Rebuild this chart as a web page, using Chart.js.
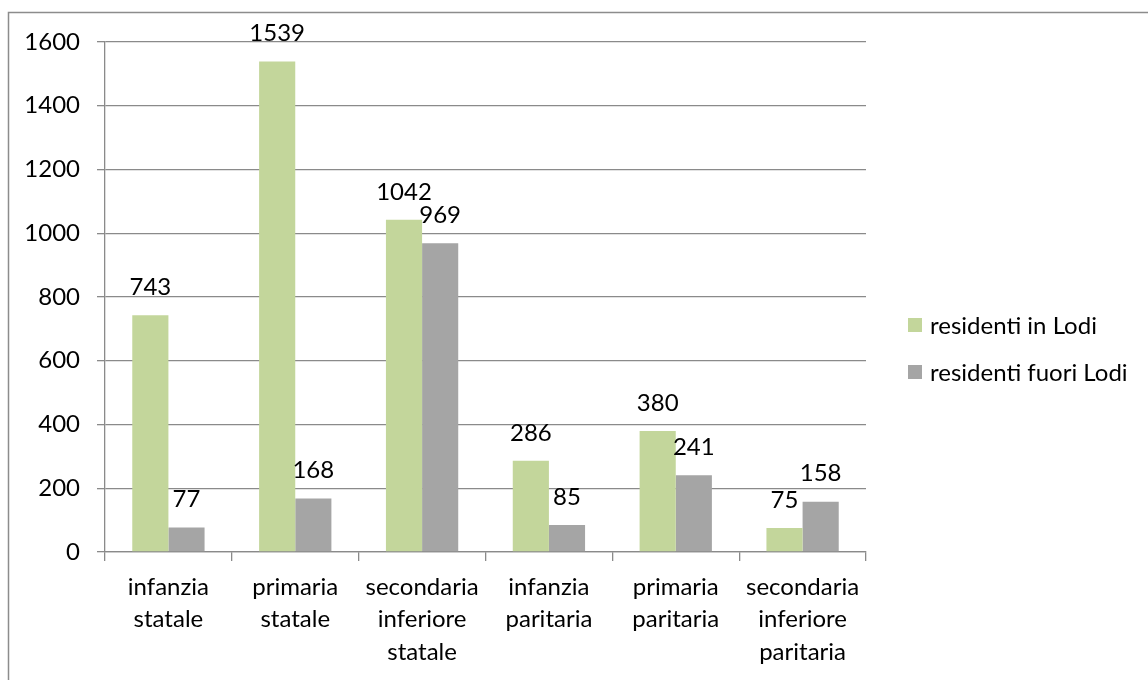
<!DOCTYPE html>
<html>
<head>
<meta charset="utf-8">
<script src="https://cdn.jsdelivr.net/npm/chart.js@4"></script>
<style>
  html, body { margin: 0; padding: 0; background: #fff; }
  #wrap { width: 1148px; height: 680px; position: relative; }
</style>
</head>
<body>
<div id="wrap"><canvas id="c" width="1148" height="680"></canvas></div>
<script>
// School categories (multi-line labels)
const categories = [
  ['infanzia', 'statale'],
  ['primaria', 'statale'],
  ['secondaria', 'inferiore', 'statale'],
  ['infanzia', 'paritaria'],
  ['primaria', 'paritaria'],
  ['secondaria', 'inferiore', 'paritaria']
];
const seriesNames = ['residenti in Lodi', 'residenti fuori Lodi'];
const residentiLodi = [743, 1539, 1042, 286, 380, 75];
const residentiFuori = [77, 168, 969, 85, 241, 158];
const yTicks = { min: 0, max: 1600, step: 200 };

const FONT = 'Lato';
const FONT_SIZE = 24;
const GRID = '#8a8a8a';

// Value labels above each bar, the legend and the frame around the chart
const decorations = {
  id: 'decorations',
  afterDatasetsDraw(chart) {
    const ctx = chart.ctx;
    ctx.save();
    ctx.font = FONT_SIZE + 'px ' + FONT;
    ctx.fillStyle = '#000';
    ctx.textAlign = 'center';
    ctx.textBaseline = 'middle';
    chart.data.datasets.forEach((ds, di) => {
      const meta = chart.getDatasetMeta(di);
      meta.data.forEach((bar, i) => {
        ctx.fillText(String(ds.data[i]), bar.x, bar.y - 28);
      });
    });
    ctx.restore();
  },
  afterDraw(chart) {
    const ctx = chart.ctx;
    ctx.save();
    const ys = [325, 372];
    ctx.font = FONT_SIZE + 'px ' + FONT;
    ctx.textAlign = 'left';
    ctx.textBaseline = 'middle';
    chart.data.datasets.forEach((ds, di) => {
      ctx.fillStyle = ds.backgroundColor;
      ctx.fillRect(908, ys[di] - 7, 14, 14);
      ctx.fillStyle = '#000';
      ctx.fillText(ds.label, 930, ys[di] + 1);
    });
    ctx.strokeStyle = '#8c8c8c';
    ctx.lineWidth = 1.5;
    ctx.strokeRect(8.5, 12.5, 1200, 700);
    ctx.restore();
  }
};

new Chart(document.getElementById('c'), {
  type: 'bar',
  data: {
    labels: categories,
    datasets: [
      { label: seriesNames[0], data: residentiLodi, backgroundColor: '#c3d69b' },
      { label: seriesNames[1], data: residentiFuori, backgroundColor: '#a5a5a5' }
    ]
  },
  options: {
    responsive: false,
    animation: false,
    devicePixelRatio: 1,
    layout: { padding: { top: 42, left: 0, right: 282, bottom: 0 } },
    datasets: { bar: { categoryPercentage: 0.57, barPercentage: 1.0 } },
    plugins: {
      legend: { display: false },
      tooltip: { enabled: false }
    },
    scales: {
      x: {
        afterFit(scale) { scale.height = 128; },
        grid: {
          display: true,
          offset: true,
          drawOnChartArea: false,
          color: GRID,
          tickLength: 9,
          lineWidth: 1.3
        },
        border: { display: true, color: GRID, width: 1.3 },
        ticks: {
          color: '#000',
          font: { family: FONT, size: FONT_SIZE, lineHeight: 1.35 },
          padding: 10,
          maxRotation: 0,
          autoSkip: false
        }
      },
      y: {
        min: yTicks.min,
        max: yTicks.max,
        afterFit(scale) { scale.width = 105; },
        grid: {
          color: GRID,
          lineWidth: 1.3,
          tickLength: 8,
          drawTicks: true
        },
        border: { display: true, color: GRID, width: 1.3 },
        ticks: {
          stepSize: yTicks.step,
          color: '#000',
          font: { family: FONT, size: FONT_SIZE },
          padding: 17,
          callback: (v) => String(v)
        }
      }
    }
  },
  plugins: [decorations]
});
</script>
</body>
</html>
